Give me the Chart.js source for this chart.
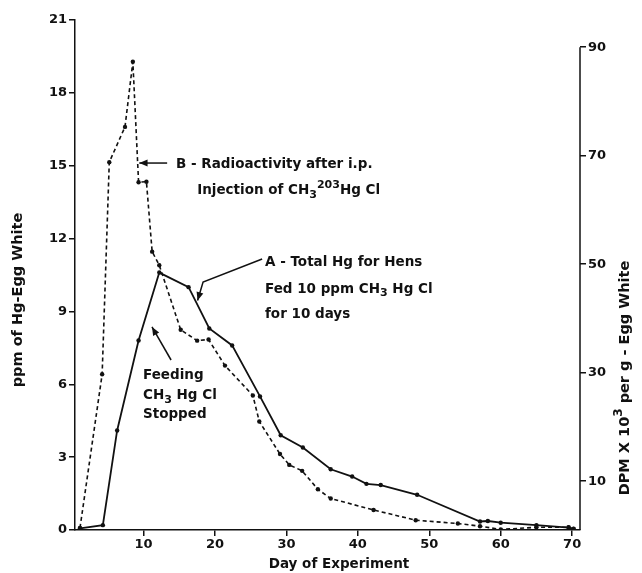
<!DOCTYPE html>
<html>
<head>
<meta charset="utf-8">
<title>Hg in Egg White</title>
<script src="https://cdn.jsdelivr.net/npm/chart.js@4.4.0/dist/chart.umd.min.js"></script>
<style>
    html, body { margin: 0; padding: 0; background: #fff; }
    canvas { display: block; }
</style>
</head>
<body>
<canvas id="hgChart" width="642" height="573"></canvas>
<script>
// Curve A - total Hg (ppm, left axis)
const totalHgDays = [1.1, 4.3, 6.3, 9.3, 12.2, 16.3, 19.2, 22.4, 26.3, 29.2, 32.3, 36.2, 39.2, 41.2, 43.2, 48.3, 57.1, 58.2, 60, 65, 69.5, 70.2];
const totalHgPpm = [0.07, 0.2, 4.1, 7.8, 10.6, 10.0, 8.3, 7.6, 5.5, 3.9, 3.4, 2.5, 2.2, 1.9, 1.85, 1.45, 0.35, 0.37, 0.3, 0.2, 0.1, 0.05];

// Curve B - radioactivity (DPM x 10^3 per g, right axis)
const radioDays = [1.1, 4.2, 5.2, 7.4, 8.5, 9.3, 10.4, 11.2, 12.2, 15.2, 17.5, 19.1, 21.4, 25.3, 26.2, 29.1, 30.4, 32.2, 34.4, 36.2, 42.2, 48.1, 54, 57.1, 60, 65, 69.5, 70.2];
const radioDpm = [1.4, 29.7, 68.8, 75.3, 87.3, 65.1, 65.2, 52.3, 49.8, 37.9, 35.9, 36.1, 31.3, 25.8, 21.0, 15.0, 13.0, 11.9, 8.5, 6.8, 4.7, 2.8, 2.2, 1.7, 1.1, 1.5, 1.5, 1.2];

// Tick labels
const dayTicks = [10, 20, 30, 40, 50, 60, 70];
const ppmTicks = [0, 3, 6, 9, 12, 15, 18, 21];
const dpmTicks = [10, 30, 50, 70, 90];

const INK = '#111';
const FONT = '"DejaVu Sans"';

// Build {x, y} points
function toPoints(xs, ys) {
    return xs.map((d, i) => ({ x: d, y: ys[i] }));
}

// Draw text with sub/superscript pieces, left aligned
function drawRich(ctx, parts, x, y, size) {
    let cx = x;
    parts.forEach(p => {
        const small = p.sub || p.sup;
        ctx.font = `bold ${small ? Math.round(size * 0.8) : size}px ${FONT}`;
        let dy = 0;
        if (p.sub) dy = size * 0.3;
        if (p.sup) dy = -size * 0.45;
        ctx.fillText(p.t, cx, y + dy);
        cx += ctx.measureText(p.t).width;
    });
}

function richWidth(ctx, parts, size) {
    let w = 0;
    parts.forEach(p => {
        const small = p.sub || p.sup;
        ctx.font = `bold ${small ? Math.round(size * 0.8) : size}px ${FONT}`;
        w += ctx.measureText(p.t).width;
    });
    return w;
}

// Arrow along a polyline, head at the last point
function drawArrow(ctx, pts) {
    ctx.beginPath();
    ctx.moveTo(pts[0][0], pts[0][1]);
    for (let i = 1; i < pts.length; i++) ctx.lineTo(pts[i][0], pts[i][1]);
    ctx.stroke();
    const [x1, y1] = pts[pts.length - 2];
    const [x2, y2] = pts[pts.length - 1];
    const a = Math.atan2(y2 - y1, x2 - x1);
    const len = 9, half = 0.4;
    ctx.beginPath();
    ctx.moveTo(x2, y2);
    ctx.lineTo(x2 - len * Math.cos(a - half), y2 - len * Math.sin(a - half));
    ctx.lineTo(x2 - len * Math.cos(a + half), y2 - len * Math.sin(a + half));
    ctx.closePath();
    ctx.fill();
}

// Annotations, right axis line and axis titles
const annotationPlugin = {
    id: 'annotations',
    afterDraw(chart) {
        const { ctx, chartArea, scales } = chart;
        const px = d => scales.x.getPixelForValue(d);
        const py = v => scales.y.getPixelForValue(v);
        ctx.save();
        ctx.fillStyle = INK;
        ctx.strokeStyle = INK;
        ctx.lineWidth = 1.5;

        // right axis line stops at 90
        ctx.beginPath();
        ctx.moveTo(chartArea.right, scales.y1.getPixelForValue(90));
        ctx.lineTo(chartArea.right, chartArea.bottom);
        ctx.stroke();

        ctx.textBaseline = 'middle';
        ctx.textAlign = 'left';
        const size = 13.5;

        // B label
        drawArrow(ctx, [[px(13.3), py(15.11)], [px(9.4), py(15.11)]]);
        drawRich(ctx, [{ t: 'B - Radioactivity after i.p.' }], px(14.55), py(15.03), size);
        drawRich(ctx, [{ t: 'Injection of CH' }, { t: '3', sub: true }, { t: '203', sup: true }, { t: 'Hg Cl' }], px(17.5), py(13.96), size);

        // A label
        drawArrow(ctx, [[px(26.6), py(11.16)], [px(18.33), py(10.21)], [px(17.56), py(9.45)]]);
        drawRich(ctx, [{ t: 'A - Total Hg for Hens' }], px(27.0), py(11.0), size);
        drawRich(ctx, [{ t: 'Fed 10 ppm CH' }, { t: '3', sub: true }, { t: ' Hg Cl' }], px(27.0), py(9.92), size);
        drawRich(ctx, [{ t: 'for 10 days' }], px(27.0), py(8.89), size);

        // feeding stopped label
        drawArrow(ctx, [[px(13.85), py(7.0)], [px(11.18), py(8.36)]]);
        drawRich(ctx, [{ t: 'Feeding' }], px(9.92), py(6.38), size);
        drawRich(ctx, [{ t: 'CH' }, { t: '3', sub: true }, { t: ' Hg Cl' }], px(9.92), py(5.52), size);
        drawRich(ctx, [{ t: 'Stopped' }], px(9.92), py(4.74), size);

        // x title
        ctx.textAlign = 'center';
        ctx.font = `bold 13.5px ${FONT}`;
        ctx.fillText('Day of Experiment', 339, 564);

        // left title
        ctx.save();
        ctx.translate(18, 300);
        ctx.rotate(-Math.PI / 2);
        ctx.font = `bold 14.5px ${FONT}`;
        ctx.fillText('ppm of Hg-Egg White', 0, 0);
        ctx.restore();

        // right title
        const rightParts = [{ t: 'DPM X 10' }, { t: '3', sup: true }, { t: ' per g - Egg White' }];
        ctx.save();
        ctx.translate(625, 378);
        ctx.rotate(-Math.PI / 2);
        ctx.textAlign = 'left';
        const w = richWidth(ctx, rightParts, 14.5);
        drawRich(ctx, rightParts, -w / 2, 0, 14.5);
        ctx.restore();

        ctx.restore();
    }
};

const axisFont = { family: 'DejaVu Sans', size: 13, weight: 'bold' };

new Chart(document.getElementById('hgChart'), {
    type: 'line',
    data: {
        datasets: [
            {
                label: 'A - Total Hg',
                data: toPoints(totalHgDays, totalHgPpm),
                yAxisID: 'y',
                borderColor: INK,
                backgroundColor: INK,
                borderWidth: 1.8,
                pointRadius: 2.2,
                pointBorderWidth: 0,
                tension: 0
            },
            {
                label: 'B - Radioactivity',
                data: toPoints(radioDays, radioDpm),
                yAxisID: 'y1',
                borderColor: INK,
                backgroundColor: INK,
                borderWidth: 1.6,
                borderDash: [4, 3],
                pointRadius: 2.2,
                pointBorderWidth: 0,
                tension: 0
            }
        ]
    },
    options: {
        responsive: false,
        animation: false,
        devicePixelRatio: 1,
        layout: { padding: { top: 20, left: 0, right: 0, bottom: 0 } },
        plugins: {
            legend: { display: false },
            tooltip: { enabled: false }
        },
        scales: {
            x: {
                type: 'linear',
                min: 0.4,
                max: 71.1,
                afterBuildTicks: s => { s.ticks = dayTicks.map(v => ({ value: v })); },
                afterFit: s => { s.height = 43; },
                grid: { drawOnChartArea: false, drawTicks: true, tickLength: 6, color: INK, lineWidth: 1.5 },
                border: { color: INK, width: 1.5 },
                ticks: { font: axisFont, color: INK, padding: 1, maxRotation: 0, autoSkip: false }
            },
            y: {
                position: 'left',
                min: 0,
                max: 21,
                afterBuildTicks: s => { s.ticks = ppmTicks.map(v => ({ value: v })); },
                afterFit: s => { s.width = 75; },
                grid: { drawOnChartArea: false, drawTicks: true, tickLength: 6, color: INK, lineWidth: 1.5 },
                border: { color: INK, width: 1.5 },
                ticks: { font: axisFont, color: INK, padding: 2, autoSkip: false }
            },
            y1: {
                position: 'right',
                min: 1,
                max: 95,
                afterBuildTicks: s => { s.ticks = dpmTicks.map(v => ({ value: v })); },
                afterFit: s => { s.width = 62; },
                grid: { drawOnChartArea: false, drawTicks: true, tickLength: 6, color: INK, lineWidth: 1.5 },
                border: { display: false },
                ticks: { font: axisFont, color: INK, padding: 2, autoSkip: false }
            }
        }
    },
    plugins: [annotationPlugin]
});
</script>
</body>
</html>
